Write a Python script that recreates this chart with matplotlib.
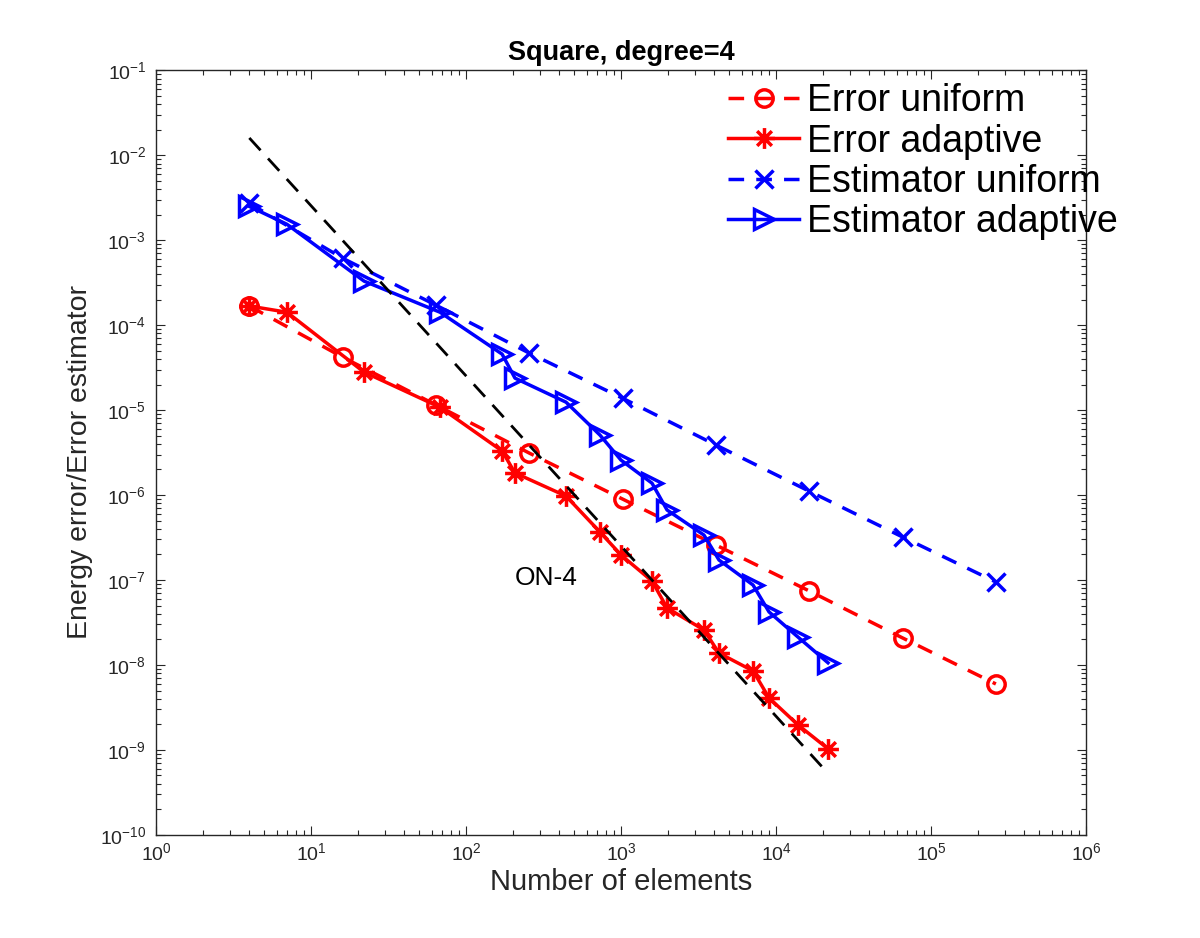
import matplotlib
matplotlib.use("Agg")
import matplotlib.pyplot as plt
from matplotlib.path import Path
from matplotlib.ticker import LogLocator, NullFormatter

# data
n_uniform = [4, 16, 64, 256, 1024, 4096, 16384, 65536, 262144]
err_uniform = [1.68e-4, 4.2e-5, 1.15e-5, 3.12e-6, 8.97e-7, 2.58e-7, 7.43e-8, 2.08e-8, 5.97e-9]
est_uniform = [2.72e-3, 6.14e-4, 1.72e-4, 4.69e-5, 1.38e-5, 3.88e-6, 1.11e-6, 3.21e-7, 9.47e-8]

n_adaptive = [4, 7, 22, 68, 171, 207, 442, 732, 1000, 1585, 1982, 3430, 4287,
              7110, 9016, 13860, 21650]
err_adaptive = [1.68e-4, 1.42e-4, 2.80e-5, 1.08e-5, 3.30e-6, 1.82e-6, 9.73e-7, 3.67e-7,
                1.97e-7, 9.73e-8, 4.69e-8, 2.58e-8, 1.38e-8, 8.5e-9, 4.09e-9, 1.97e-9, 1.03e-9]
est_adaptive = [2.5e-3, 1.54e-3, 3.30e-4, 1.42e-4, 4.56e-5, 2.38e-5, 1.24e-5, 5.08e-6,
                2.58e-6, 1.38e-6, 6.67e-7, 3.38e-7, 1.72e-7, 8.73e-8, 4.21e-8, 2.13e-8, 1.06e-8]

# O(N^-2) guide line
ref_n = [4, 20700]
ref_val = [1.6e-2, 5.8e-10]

x_ticks = [1, 1e1, 1e2, 1e3, 1e4, 1e5, 1e6]
y_ticks = [1e-10, 1e-9, 1e-8, 1e-7, 1e-6, 1e-5, 1e-4, 1e-3, 1e-2, 1e-1]

plt.rcParams['font.family'] = ['Liberation Sans', 'DejaVu Sans']
plt.rcParams['mathtext.fontset'] = 'custom'
plt.rcParams['mathtext.rm'] = 'Liberation Sans'
plt.rcParams['mathtext.default'] = 'regular'

# matlab-like asterisk (plus + cross)
d = 0.7071
asterisk = Path([(0, -1), (0, 1), (-1, 0), (1, 0), (-d, -d), (d, d), (-d, d), (d, -d)],
                [Path.MOVETO, Path.LINETO] * 4)

fig = plt.figure(figsize=(12, 9.38), dpi=100)
ax = fig.add_axes([0.13, 0.11, 0.775, 0.815])

dash = (0, (4.5, 3.5))
lw = 2.5
ax.loglog(n_uniform, err_uniform, color='red', ls=dash, lw=lw, marker='o', ms=12.5,
          mfc='none', mew=2.5, label='Error uniform')
ax.loglog(n_adaptive, err_adaptive, color='red', ls='-', lw=lw, marker=asterisk, ms=15,
          mew=2.5, label='Error adaptive')
ax.loglog(n_uniform, est_uniform, color='blue', ls=dash, lw=lw, marker='x', ms=12.5,
          mew=2.5, label='Estimator uniform')
ax.loglog(n_adaptive, est_adaptive, color='blue', ls='-', lw=lw, marker='>', ms=15,
          mfc='none', mew=2.5, label='Estimator adaptive')
ax.loglog(ref_n, ref_val, color='black', ls=(0, (6, 4)), lw=2.0)

ax.text(207, 1.06e-7, 'ON-4', fontsize=19, ha='left', va='center')

ax.set_xlim(1, 1e6)
ax.set_ylim(1e-10, 1e-1)
ax.set_xticks(x_ticks)
ax.set_yticks(y_ticks)
ax.xaxis.set_minor_locator(LogLocator(base=10, subs=range(2, 10), numticks=20))
ax.yaxis.set_minor_locator(LogLocator(base=10, subs=range(2, 10), numticks=20))
ax.xaxis.set_minor_formatter(NullFormatter())
ax.yaxis.set_minor_formatter(NullFormatter())

gray = '#262626'
ax.tick_params(which='both', direction='in', top=True, right=True, color=gray,
               labelcolor=gray, labelsize=14, width=0.8)
ax.tick_params(which='major', length=6.7)
ax.tick_params(which='minor', length=3.5)
ax.tick_params(axis='x', pad=5)
ax.tick_params(axis='y', pad=7)
for s in ax.spines.values():
    s.set_color(gray)
    s.set_linewidth(1.0)

ax.set_title('Square, degree=4', fontsize=19.5, fontweight='bold', pad=7.5)
ax.set_xlabel('Number of elements', fontsize=21, color=gray)
ax.set_ylabel('Energy error/Error estimator', fontsize=20.5, color=gray)
ax.xaxis.set_label_coords(0.5, -0.043)
ax.yaxis.set_label_coords(-0.068, 0.488)

ax.legend(loc='upper left', bbox_to_anchor=(728 / 1200, 1 - 83 / 938),
          bbox_transform=fig.transFigure, frameon=False, fontsize=27,
          borderpad=0, borderaxespad=0, handlelength=1.9, handletextpad=0.2,
          labelspacing=0.12, numpoints=1)

fig.savefig('out.png', dpi=100, facecolor='white')
